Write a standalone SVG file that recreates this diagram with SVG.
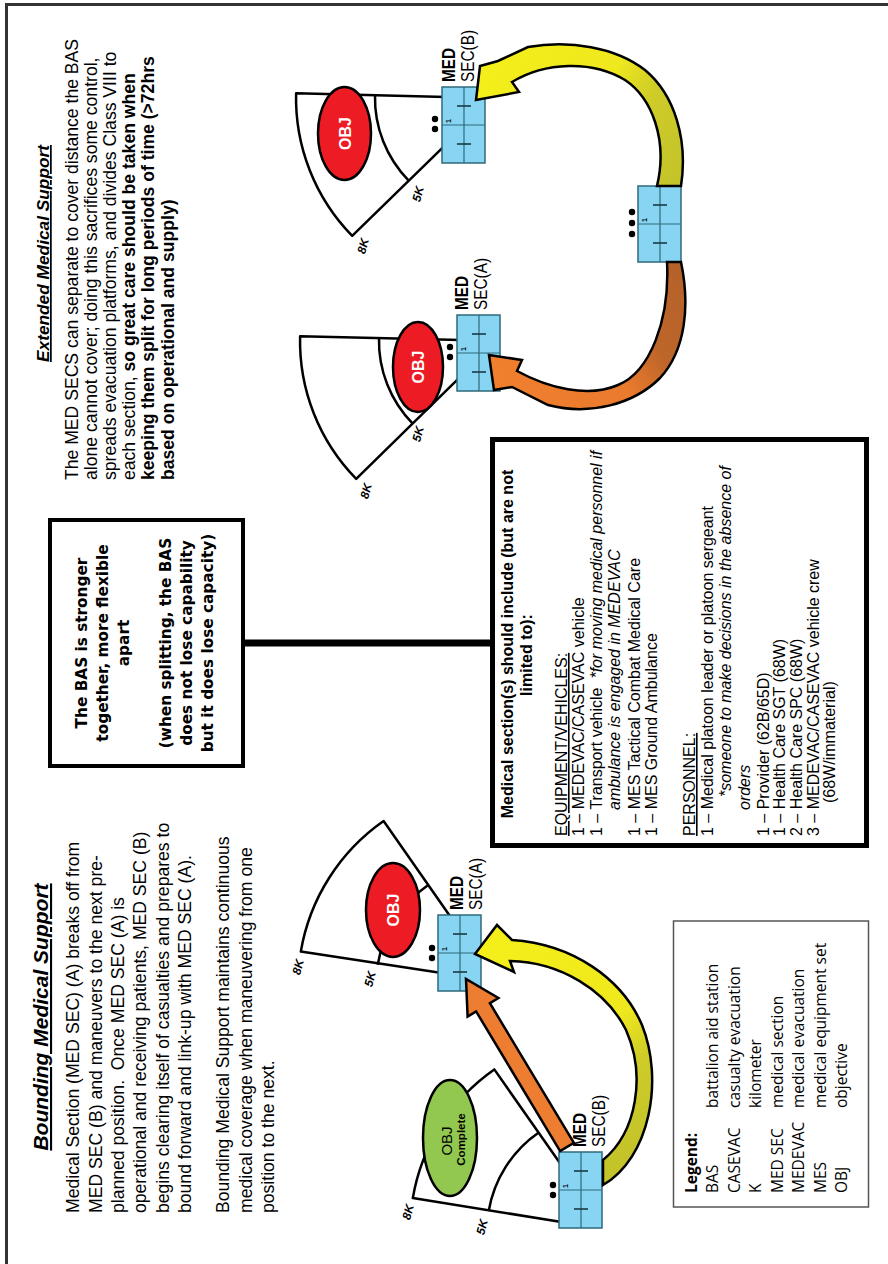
<svg xmlns="http://www.w3.org/2000/svg" width="888" height="1264" viewBox="0 0 888 1264">
<defs>
<style>
.t{font-family:"Liberation Sans",Arial,sans-serif;fill:#000}
.body{font-size:17.6px}
.ttl{font-weight:bold;font-style:italic;text-decoration:underline}
.lst{font-size:16px}
.b{font-weight:bold}
.i{font-style:italic}
.u{text-decoration:underline}
.bas{font-family:"DejaVu Sans",sans-serif;font-weight:bold;font-size:15.3px;text-anchor:middle}
.leg{font-family:"Open Sans",sans-serif;font-size:15.5px}
.sec{fill:none;stroke:#000;stroke-width:2.5;stroke-linejoin:round}
.km{font-family:"Liberation Sans",sans-serif;font-size:12px;font-style:italic;font-weight:bold}
.lbl{font-family:"Liberation Sans",sans-serif;font-size:17.5px}
.obj{fill:#ED1C24;stroke:#000;stroke-width:2.5}
.objt{font-family:"Liberation Sans",sans-serif;font-weight:bold;font-size:16px;fill:#fff;text-anchor:middle}
.arr{stroke:#000;stroke-width:2.5;stroke-linejoin:miter}
.dot{fill:#000}
</style>
<linearGradient id="gy1" gradientUnits="userSpaceOnUse" x1="500" y1="950" x2="630" y2="1150">
<stop offset="0" stop-color="#F4EE1B"/><stop offset="0.5" stop-color="#EEE81E"/><stop offset="0.7" stop-color="#CFCC28"/><stop offset="1" stop-color="#C4C42A"/>
</linearGradient>
<linearGradient id="gy2" gradientUnits="userSpaceOnUse" x1="490" y1="70" x2="675" y2="180">
<stop offset="0" stop-color="#F4EE1B"/><stop offset="0.5" stop-color="#EEE81E"/><stop offset="0.7" stop-color="#CFCC28"/><stop offset="1" stop-color="#C4C42A"/>
</linearGradient>
<linearGradient id="go" gradientUnits="userSpaceOnUse" x1="500" y1="385" x2="675" y2="270">
<stop offset="0" stop-color="#F0802E"/><stop offset="0.5" stop-color="#EA7A2D"/><stop offset="0.72" stop-color="#BE6629"/><stop offset="1" stop-color="#B5622A"/>
</linearGradient>
<g id="ms">
<rect x="0" y="0" width="43" height="76" fill="#88D4F3" stroke="#2E6A7A" stroke-width="1.5"/>
<line x1="22" y1="0" x2="22" y2="76" stroke="#2E6A7A" stroke-width="1.2"/>
<line x1="0" y1="38" x2="43" y2="38" stroke="#2E6A7A" stroke-width="1.2"/>
<line x1="15" y1="19" x2="29" y2="19" stroke="#1A3A44" stroke-width="1.6"/>
<line x1="15" y1="57" x2="29" y2="57" stroke="#1A3A44" stroke-width="1.6"/>
<text transform="translate(9,36) rotate(-90)" font-family="Liberation Sans" font-size="7" font-weight="bold">1</text>
</g>
</defs>

<rect x="0" y="0" width="888" height="1264" fill="#fff"/>
<path d="M6.5,1264 V4.5 H888" fill="none" stroke="#333" stroke-width="3"/>

<g id="bounding-text">
<text class="t ttl" style="font-size:21px" text-anchor="middle" transform="translate(48,1017) rotate(-90)">Bounding Medical Support</text>
<text class="t body" transform="translate(79.3,1213) rotate(-90)">Medical Section (MED SEC) (A) breaks off from</text>
<text class="t body" transform="translate(101.6,1213) rotate(-90)">MED SEC (B) and maneuvers to the next pre-</text>
<text class="t body" transform="translate(123.9,1213) rotate(-90)">planned position.&#160; Once MED SEC (A) is</text>
<text class="t body" transform="translate(146.2,1213) rotate(-90)">operational and receiving patients, MED SEC (B)</text>
<text class="t body" transform="translate(168.5,1213) rotate(-90)">begins clearing itself of casualties and prepares to</text>
<text class="t body" transform="translate(190.8,1213) rotate(-90)">bound forward and link-up with MED SEC (A).</text>
<text class="t body" transform="translate(229.3,1213) rotate(-90)">Bounding Medical Support maintains continuous</text>
<text class="t body" transform="translate(251.6,1213) rotate(-90)">medical coverage when maneuvering from one</text>
<text class="t body" transform="translate(273.9,1213) rotate(-90)">position to the next.</text>
</g>

<g id="extended-text">
<text class="t ttl" style="font-size:17.3px" text-anchor="middle" transform="translate(49,253.5) rotate(-90)">Extended Medical Support</text>
<text class="t body" transform="translate(77.5,480) rotate(-90)">The MED SECS can separate to cover distance the BAS</text>
<text class="t body" transform="translate(96.7,480) rotate(-90)">alone cannot cover; doing this sacrifices some control,</text>
<text class="t body" transform="translate(115.9,480) rotate(-90)">spreads evacuation platforms, and divides Class VIII to</text>
<text class="t body" transform="translate(135.1,480) rotate(-90)">each section, <tspan class="b">so great care should be taken when</tspan></text>
<text class="t body b" transform="translate(154.3,480) rotate(-90)">keeping them split for long periods of time (&gt;72hrs</text>
<text class="t body b" transform="translate(173.5,480) rotate(-90)">based on operational and supply)</text>
</g>

<g id="bas-box">
<rect x="50" y="520" width="193" height="246" fill="#fff" stroke="#000" stroke-width="4"/>
<text class="bas" transform="translate(87,643) rotate(-90)">The BAS is stronger</text>
<text class="bas" transform="translate(108,643) rotate(-90)">together, more flexible</text>
<text class="bas" transform="translate(129,643) rotate(-90)">apart</text>
<text class="bas" transform="translate(171,643) rotate(-90)">(when splitting, the BAS</text>
<text class="bas" transform="translate(192,643) rotate(-90)">does not lose capability</text>
<text class="bas" transform="translate(213,643) rotate(-90)">but it does lose capacity)</text>
</g>

<g id="medical-section-box">
<rect x="492.5" y="439.5" width="374" height="406" fill="#fff" stroke="#000" stroke-width="5"/>
<text class="t b" style="font-size:16px" text-anchor="middle" transform="translate(513,644) rotate(-90)">Medical section(s) should include (but are not</text>
<text class="t b" style="font-size:16px" text-anchor="middle" transform="translate(532,655) rotate(-90)">limited to):</text>
<text class="t lst u" transform="translate(567,836) rotate(-90)">EQUIPMENT/VEHICLES:</text>
<text class="t lst" transform="translate(584,836) rotate(-90)">1 – MEDEVAC/CASEVAC vehicle</text>
<text class="t lst" transform="translate(602,836) rotate(-90)">1 – Transport vehicle&#160; <tspan class="i">*for moving medical personnel if</tspan></text>
<text class="t lst i" transform="translate(620,810) rotate(-90)">ambulance is engaged in MEDEVAC</text>
<text class="t lst" transform="translate(640,836) rotate(-90)">1 – MES Tactical Combat Medical Care</text>
<text class="t lst" transform="translate(657,836) rotate(-90)">1 – MES Ground Ambulance</text>
<text class="t lst u" transform="translate(695,836) rotate(-90)">PERSONNEL:</text>
<text class="t lst" transform="translate(713,836) rotate(-90)">1 – Medical platoon leader or platoon sergeant</text>
<text class="t lst i" transform="translate(731,797) rotate(-90)">*someone to make decisions in the absence of</text>
<text class="t lst i" transform="translate(750,810) rotate(-90)">orders</text>
<text class="t lst" transform="translate(769,836) rotate(-90)">1 – Provider (62B/65D)</text>
<text class="t lst" transform="translate(785,836) rotate(-90)">1 – Health Care SGT (68W)</text>
<text class="t lst" transform="translate(802,836) rotate(-90)">2 – Health Care SPC (68W)</text>
<text class="t lst" transform="translate(819,836) rotate(-90)">3 – MEDEVAC/CASEVAC vehicle crew</text>
<text class="t lst" transform="translate(835,803) rotate(-90)">(68W/immaterial)</text>
</g>

<g id="legend">
<rect x="673.5" y="921" width="195" height="286" fill="#fff" stroke="#555" stroke-width="1.5"/>
<text class="leg" font-weight="bold" transform="translate(697,1193) rotate(-90)">Legend:</text>
<text class="leg" transform="translate(718,1193) rotate(-90)">BAS</text>
<text class="leg" transform="translate(740,1193) rotate(-90)">CASEVAC</text>
<text class="leg" transform="translate(761,1193) rotate(-90)">K</text>
<text class="leg" transform="translate(783,1193) rotate(-90)">MED SEC</text>
<text class="leg" transform="translate(804,1193) rotate(-90)">MEDEVAC</text>
<text class="leg" transform="translate(826,1193) rotate(-90)">MES</text>
<text class="leg" transform="translate(847,1193) rotate(-90)">OBJ</text>
<text class="leg" transform="translate(718,1108) rotate(-90)">battalion aid station</text>
<text class="leg" transform="translate(740,1108) rotate(-90)">casualty evacuation</text>
<text class="leg" transform="translate(761,1108) rotate(-90)">kilometer</text>
<text class="leg" transform="translate(783,1108) rotate(-90)">medical section</text>
<text class="leg" transform="translate(804,1108) rotate(-90)">medical evacuation</text>
<text class="leg" transform="translate(826,1108) rotate(-90)">medical equipment set</text>
<text class="leg" transform="translate(847,1108) rotate(-90)">objective</text>
</g>

<g id="bounding-med-sec-a">
<path class="sec" d="M445,973.6 L300.8,951.6 A200,200 0 0 1 383.6,821 L452,919"/>
<path class="sec" d="M377.7,964.7 A122,122 0 0 1 428.2,885"/>
<ellipse class="obj" cx="393" cy="910" rx="27" ry="47"/>
<text class="objt" transform="translate(399,910) rotate(-90)">OBJ</text>
<text class="km" text-anchor="middle" transform="translate(302,968) rotate(-75)">8K</text>
<text class="km" text-anchor="middle" transform="translate(374,980) rotate(-75)">5K</text>
<use href="#ms" transform="translate(438,915)"/>
<circle class="dot" cx="432" cy="948" r="3.2"/><circle class="dot" cx="432" cy="958" r="3.2"/>
<text class="lbl" font-weight="bold" textLength="34" lengthAdjust="spacingAndGlyphs" transform="translate(463,910) rotate(-90)">MED</text>
<text class="lbl" textLength="52" lengthAdjust="spacingAndGlyphs" transform="translate(482,910) rotate(-90)">SEC(A)</text>
</g>

<g id="bounding-med-sec-b">
<path class="sec" d="M563,1222.2 L412.8,1198.1 A197,197 0 0 1 494.3,1069.4 L562,1166"/>
<path class="sec" d="M488.7,1211 A120,120 0 0 1 538.4,1132.7"/>
<ellipse cx="450" cy="1138" rx="27" ry="58" fill="#92C84F" stroke="#000" stroke-width="2.5"/>
<text class="t" style="font-size:15px" text-anchor="middle" transform="translate(452,1141) rotate(-90)">OBJ</text>
<text class="t b" style="font-size:11.5px" text-anchor="middle" transform="translate(465,1139.5) rotate(-90)">Complete</text>
<text class="km" text-anchor="middle" transform="translate(412,1213) rotate(-75)">8K</text>
<text class="km" text-anchor="middle" transform="translate(486,1228) rotate(-75)">5K</text>
<use href="#ms" transform="translate(559,1152)"/>
<circle class="dot" cx="553" cy="1185" r="3.2"/><circle class="dot" cx="553" cy="1195" r="3.2"/>
<text class="lbl" font-weight="bold" textLength="34" lengthAdjust="spacingAndGlyphs" transform="translate(586,1147) rotate(-90)">MED</text>
<text class="lbl" textLength="52" lengthAdjust="spacingAndGlyphs" transform="translate(605,1147) rotate(-90)">SEC(B)</text>
</g>

<g id="extended-med-sec-b">
<path class="sec" d="M446,144.3 L352.2,235.8 A197,197 0 0 1 296.1,93.2 L446,96.9"/>
<path class="sec" d="M408.7,180.6 A118,118 0 0 1 375,95.1"/>
<ellipse class="obj" cx="344.5" cy="133.5" rx="26.5" ry="46.5"/>
<text class="objt" transform="translate(350.5,133.5) rotate(-90)">OBJ</text>
<text class="km" text-anchor="middle" transform="translate(422,195) rotate(-75)">5K</text>
<text class="km" text-anchor="middle" transform="translate(367,247) rotate(-75)">8K</text>
<use href="#ms" transform="translate(442,87)"/>
<circle class="dot" cx="435" cy="119" r="3.2"/><circle class="dot" cx="435" cy="129" r="3.2"/>
<text class="lbl" font-weight="bold" textLength="34" lengthAdjust="spacingAndGlyphs" transform="translate(455,82) rotate(-90)">MED</text>
<text class="lbl" textLength="52" lengthAdjust="spacingAndGlyphs" transform="translate(474,82) rotate(-90)">SEC(B)</text>
</g>

<g id="extended-med-sec-a">
<path class="sec" d="M461,376.2 L356.2,478.8 A197,197 0 0 1 300.1,336.2 L461,340.1"/>
<path class="sec" d="M412.7,423.6 A118,118 0 0 1 379,338.1"/>
<ellipse class="obj" cx="418" cy="367" rx="25" ry="45"/>
<text class="objt" transform="translate(424,367) rotate(-90)">OBJ</text>
<text class="km" text-anchor="middle" transform="translate(422,435) rotate(-75)">5K</text>
<text class="km" text-anchor="middle" transform="translate(370,492) rotate(-75)">8K</text>
<use href="#ms" transform="translate(457,315)"/>
<circle class="dot" cx="450" cy="347" r="3.2"/><circle class="dot" cx="450" cy="357" r="3.2"/>
<text class="lbl" font-weight="bold" textLength="34" lengthAdjust="spacingAndGlyphs" transform="translate(468,310) rotate(-90)">MED</text>
<text class="lbl" textLength="52" lengthAdjust="spacingAndGlyphs" transform="translate(487,310) rotate(-90)">SEC(A)</text>
</g>

<g id="extended-med-sec-moving">
<use href="#ms" transform="translate(638,186)"/>
<circle class="dot" cx="632" cy="212" r="3.2"/><circle class="dot" cx="632" cy="223" r="3.2"/><circle class="dot" cx="632" cy="234" r="3.2"/>
</g>

<g id="connectors">
<line x1="245" y1="643" x2="490" y2="643" stroke="#000" stroke-width="7"/>
<polygon class="arr" fill="#ED7D31" points="573.9,1142.9 489.9,1003.2 498.4,998 466,979 467.6,1016.6 476.1,1011.4 560.1,1151.1"/>
<path class="arr" fill="url(#gy1)" d="M603,1160 L603,1185 C650,1158 664,1080 642,1025 C622,978 572,944 512,940 L497,925 L475,954 L514,972 L510,961 C560,962 606,990 626,1030 C646,1075 637,1132 603,1160 Z"/>
<path class="arr" fill="url(#gy2)" d="M657,186 L681,186 C688,140 675,95 645,70 C615,47 570,40 528,47 L498,61 L480,66 L476,100 L519,92 L512,82 C545,62 592,60 625,80 C652,98 668,140 657,186 Z"/>
<path class="arr" fill="url(#go)" d="M667,262 L681,262 C690,305 686,350 660,378 C634,404 590,416 548,405 L512,387 L494,390 L489,355 L522,360 L517,371 C548,388 588,398 618,385 C650,372 670,320 667,262 Z"/>
</g>
</svg>
